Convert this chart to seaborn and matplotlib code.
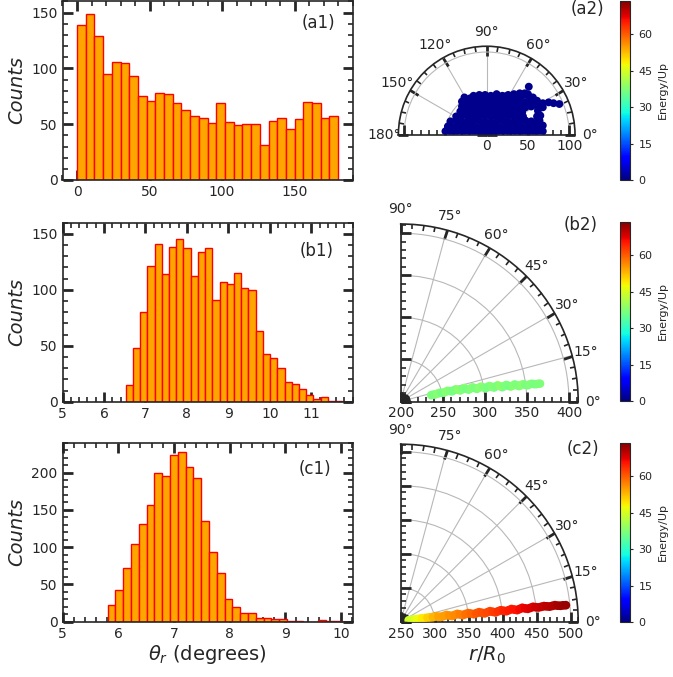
import numpy as np
import pandas as pd
import matplotlib
matplotlib.use("Agg")
import matplotlib.pyplot as plt
import seaborn as sns
from matplotlib.ticker import MultipleLocator, FixedLocator
from matplotlib.colors import Normalize
from matplotlib.cm import ScalarMappable

# ---------------- histogram data: counts per bin ----------------
a1_bin_range = (0.0, 180.0)
a1_counts = [139, 149, 129, 95, 106, 105, 93, 75, 71, 78, 77, 69, 63, 57, 56,
             51, 69, 52, 49, 50, 50, 31, 53, 56, 46, 55, 70, 69, 56, 57]

b1_bin_range = (6.525, 11.75)
b1_counts = [15, 48, 80, 121, 141, 114, 138, 145, 137, 112, 134, 137, 91, 107, 105,
             115, 102, 100, 63, 43, 39, 30, 18, 16, 11, 6, 2, 4, 1, 1]

c1_bin_range = (5.81, 10.01)
c1_counts = [23, 42, 72, 104, 131, 157, 199, 195, 224, 227, 208, 193, 135, 94, 65,
             30, 20, 11, 11, 5, 5, 3, 3, 1, 1, 0, 0, 2, 1, 1]

# ---------------- panel (a2): electron positions in the plane ----------------
a2_x = [-50, -43, -36, -29, -22, -15, -8, -1, 6, 13, 20, 27, 34, 41, 48, 55, 62, 68,
        -47, -40, -33, -26, -19, -12, -5, 2, 9, 16, 23, 30, 37, 44, 51, 58, 65, 68,
        -44, -37, -30, -23, -16, -9, -2, 5, 12, 19, 26, 33, 40, 47, 54, 61, 64,
        -37, -30, -23, -16, -9, -2, 5, 12, 19, 26, 33, 40, 44, 61, 65,
        -32, -25, -18, -11, -4, 3, 10, 17, 24, 31, 38, 43, 62,
        -30, -23, -16, -9, -2, 5, 12, 19, 26, 33, 40, 47, 54, 61, 68,
        -30, -23, -16, -9, -2, 5, 12, 19, 26, 33, 40, 47, 54, 61, 68, 75, 81, 88,
        -27, -20, -13, -6, 1, 8, 15, 22, 29, 36, 43, 50, 56,
        -16, -9, -2, 5, 12, 19, 26, 33, 40, 46, 50,
        51]
a2_y = [4, 3, 4, 3, 4, 3, 4, 3, 4, 3, 4, 3, 4, 3, 4, 3, 4, 4,
        10, 9, 10, 9, 10, 9, 10, 9, 10, 9, 10, 9, 10, 9, 10, 9, 10, 11,
        16, 17, 16, 15, 16, 17, 16, 15, 16, 17, 16, 15, 16, 17, 16, 15, 17,
        22, 23, 22, 21, 22, 23, 22, 21, 22, 23, 22, 21, 22, 22, 23,
        28, 29, 28, 27, 28, 29, 28, 27, 28, 29, 28, 27, 29,
        34, 35, 34, 33, 34, 35, 34, 33, 34, 35, 34, 33, 34, 35, 33,
        40, 41, 40, 39, 40, 41, 40, 39, 40, 41, 40, 39, 40, 41, 38, 39, 38, 37,
        45, 44, 45, 46, 45, 44, 45, 46, 45, 46, 47, 47, 45,
        47, 48, 48, 47, 49, 47, 48, 49, 50, 50, 49,
        58]
a2_energy = 1.0

# ---------------- panel (b2) ----------------
b2_r = [237, 242, 247, 252, 257, 262, 267, 272, 277, 282, 287, 292, 297, 302,
        307, 312, 317, 322, 327, 332, 337, 342, 347, 352, 357, 362, 367,
        239.5, 244.5, 249.5, 254.5, 259.5, 264.5, 269.5, 274.5, 279.5, 284.5, 289.5,
        294.5, 299.5, 304.5, 309.5, 314.5, 319.5, 324.5, 329.5, 334.5, 339.5, 344.5,
        349.5, 354.5, 359.5, 364.5]
b2_theta = [11.8, 11.6, 12.5, 11.5, 12.8, 11.2, 12.5, 10.5, 12.0, 9.9, 11.2, 9.4, 10.5, 8.9,
            9.9, 8.5, 9.5, 8.0, 8.9, 7.7, 8.5, 7.4, 8.0, 7.3, 7.7, 7.3, 7.3,
            11.9, 12.05, 12.15, 12.2, 12.1, 11.85, 11.55, 11.25, 10.9, 10.55, 10.25,
            9.95, 9.7, 9.45, 9.2, 9.0, 8.75, 8.5, 8.3, 8.1, 7.95, 7.8,
            7.65, 7.55, 7.45, 7.35]
b2_energy = [37.5, 35.8, 38.6, 36.2, 39.0, 35.5, 38.2, 36.8, 39.4, 35.9, 37.6, 36.4,
             38.8, 35.6, 37.9, 36.9, 39.2, 36.0, 37.2, 38.5, 35.8, 37.0, 38.0, 36.3,
             37.7, 36.6, 37.4,
             36.8, 37.9, 36.4, 38.1, 37.0, 36.5, 38.3, 37.2, 36.7, 37.8, 36.9,
             38.0, 37.3, 36.6, 37.7, 36.8, 38.2, 37.1, 36.5, 37.6, 37.0, 38.1,
             36.9, 37.4, 36.7, 37.2]

# ---------------- panel (c2) ----------------
c2_r = [262, 270, 278, 286, 294, 302, 310, 318, 326, 334, 342, 350, 358, 366, 374,
        382, 390, 398, 406, 414, 422, 430, 438, 446, 454, 462, 470, 478, 486, 494,
        266, 274, 282, 290, 298, 306, 314, 322, 330, 338, 346, 354, 362, 370, 378,
        386, 394, 402, 410, 418, 426, 434, 442, 450, 458, 466, 474, 482, 490]
c2_theta = [10.0, 9.5, 9.0, 8.6, 8.2, 8.6, 6.9, 8.3, 6.4, 7.8, 6.1, 7.2, 5.9, 6.9, 5.7,
            6.7, 5.6, 6.5, 5.7, 6.5, 5.7, 6.5, 5.8, 6.4, 5.9, 6.2, 5.8, 6.1, 5.7, 5.7,
            9.75, 9.25, 8.8, 8.4, 8.0, 7.7, 7.5, 7.3, 7.1, 6.9, 6.7, 6.55, 6.4, 6.25, 6.2,
            6.15, 6.1, 6.1, 6.1, 6.1, 6.1, 6.1, 6.1, 6.1, 6.05, 6.0, 5.95, 5.85, 5.75]
c2_energy = [44, 46, 48, 50, 52, 54, 55, 55.5, 56, 57, 58, 59, 60, 61, 61.5,
             62, 63, 64, 65, 65.5, 66, 67, 67.5, 68.5, 69, 70, 70.5, 71, 72, 72.5,
             45, 47, 49, 51, 53, 54.5, 55.2, 55.8, 56.5, 57.5, 58.5, 59.5, 60.5, 61.2, 61.8,
             62.5, 63.5, 64.5, 65.2, 65.8, 66.5, 67.2, 68, 68.8, 69.5, 70.2, 70.8, 71.5, 72.2]

energy_max = 74.0
cbar_ticks = [0, 15, 30, 45, 60]

# ---------------- styling ----------------
sns.set_style("ticks")
plt.rcParams.update({
    "font.family": ["DejaVu Sans"],
    "axes.linewidth": 1.2,
    "xtick.labelsize": 10,
    "ytick.labelsize": 10,
})
jet = matplotlib.colormaps["jet"]

W, H = 673, 677
fig = plt.figure(figsize=(W / 100, H / 100), dpi=100)


def rect(left, top, width, height):
    return [left / W, 1 - (top + height) / H, width / W, height / H]


def style_ticks(ax):
    kw = dict(direction="in", top=True, bottom=True, left=True, right=True)
    ax.tick_params(which="major", length=7, width=2, **kw)
    ax.tick_params(which="minor", length=3.5, width=1.2, **kw)


# ---------------- histograms ----------------
hist_panels = [
    dict(counts=a1_counts, rng=a1_bin_range, top=1.0, xlim=(-10, 190), ylim=(0, 160.4),
         xticks=[0, 50, 100, 150], xminor=10, tag="(a1)", tagpos=(318, 23)),
    dict(counts=b1_counts, rng=b1_bin_range, top=222.7, xlim=(5, 12), ylim=(0, 160),
         xticks=[5, 6, 7, 8, 9, 10, 11], xminor=0.2, tag="(b1)", tagpos=(316.5, 251.5)),
    dict(counts=c1_counts, rng=c1_bin_range, top=442.7, xlim=(5, 10.21), ylim=(0, 240),
         xticks=[5, 6, 7, 8, 9, 10], xminor=0.2, tag="(c1)", tagpos=(315, 468.5)),
]

for i, p in enumerate(hist_panels):
    ax = fig.add_axes(rect(62.5, p["top"], 290.2, 179.0))
    counts = np.asarray(p["counts"], dtype=float)
    edges = np.linspace(p["rng"][0], p["rng"][1], len(counts) + 1)
    df = pd.DataFrame({"theta": 0.5 * (edges[:-1] + edges[1:]), "count": counts})
    sns.histplot(data=df, x="theta", weights="count", bins=list(edges), ax=ax,
                 color="orange", edgecolor="red", linewidth=1.0, alpha=1.0)
    ax.set_xlim(*p["xlim"])
    ax.set_ylim(*p["ylim"])
    ax.set_xticks(p["xticks"])
    ax.xaxis.set_minor_locator(MultipleLocator(p["xminor"]))
    ax.yaxis.set_major_locator(MultipleLocator(50))
    ax.yaxis.set_minor_locator(MultipleLocator(10))
    style_ticks(ax)
    for s in ax.spines.values():
        s.set_visible(True)
        s.set_linewidth(1.2)
    ax.set_ylabel("Counts", fontsize=14, style="italic", labelpad=4)
    ax.set_xlabel("")
    if i == 2:
        ax.set_xlabel(r"$\theta_r$ (degrees)", fontsize=14, labelpad=2)
    fig.text(p["tagpos"][0] / W, 1 - p["tagpos"][1] / H, p["tag"], fontsize=12,
             ha="center", va="center")

# ---------------- polar scatter panels ----------------
norm = Normalize(0, energy_max)

polar_panels = [
    dict(theta=np.degrees(np.arctan2(a2_y, a2_x)), r=np.hypot(a2_x, a2_y),
         energy=[a2_energy] * len(a2_x), box=(398.4, 2.1, 176.6, 176.6), tmax=180,
         rlim=(0, 107), rticks=[0, 50, 100], tmajor=30, tag="(a2)", tagpos=(587, 8.5),
         cbar_top=0.5, size=32),
    dict(theta=np.asarray(b2_theta), r=np.asarray(b2_r, float), energy=b2_energy,
         box=(400.7, 224.0, 177.5, 177.5), tmax=90, rlim=(200, 411),
         rticks=[200, 250, 300, 350, 400], tmajor=15, tag="(b2)", tagpos=(581, 225),
         cbar_top=221.5, size=38),
    dict(theta=np.asarray(c2_theta), r=np.asarray(c2_r, float), energy=c2_energy,
         box=(400.7, 444.2, 177.5, 177.5), tmax=90, rlim=(250, 511),
         rticks=[250, 300, 350, 400, 450, 500], tmajor=15, tag="(c2)", tagpos=(583, 449),
         cbar_top=442.5, size=40),
]

for i, p in enumerate(polar_panels):
    pax = fig.add_axes(rect(*p["box"]), projection="polar")
    pax.set_thetamin(0)
    pax.set_thetamax(p["tmax"])
    pdf = pd.DataFrame({"theta": np.radians(p["theta"]), "r": p["r"],
                        "energy": np.asarray(p["energy"], float)})
    sns.scatterplot(data=pdf, x="theta", y="r", hue="energy", palette=jet,
                    hue_norm=norm, s=p["size"], linewidth=0, legend=False,
                    ax=pax, zorder=3)
    pax.set_rlim(*p["rlim"])
    pax.set_xticks(np.radians(np.arange(0, p["tmax"] + 1, p["tmajor"])))
    pax.xaxis.set_minor_locator(FixedLocator(
        np.radians(np.arange(0, p["tmax"] + 0.01, p["tmajor"] / 4))))
    pax.set_yticks(p["rticks"])
    pax.yaxis.set_minor_locator(MultipleLocator(10))
    style_ticks(pax)
    pax.tick_params(labelsize=10)
    pax.grid(True, which="major", color="0.72", linewidth=0.8)
    for s in pax.spines.values():
        s.set_linewidth(1.2)
    pax.set_xlabel("")
    pax.set_ylabel("")
    fig.text(p["tagpos"][0] / W, 1 - p["tagpos"][1] / H, p["tag"], fontsize=12,
             ha="center", va="center")

    cax = fig.add_axes(rect(620.0, p["cbar_top"], 10.0, 179.5))
    cb = fig.colorbar(ScalarMappable(norm=norm, cmap=jet), cax=cax, ticks=cbar_ticks)
    cb.set_label("Energy/Up", fontsize=8)
    cb.ax.tick_params(labelsize=8, length=2.5, width=0.8)
    cb.outline.set_linewidth(0.8)

fig.text(486.7 / W, 1 - 655 / H, r"$r/R_0$", fontsize=14, ha="center", va="center")

fig.savefig("out.png", dpi=100)
